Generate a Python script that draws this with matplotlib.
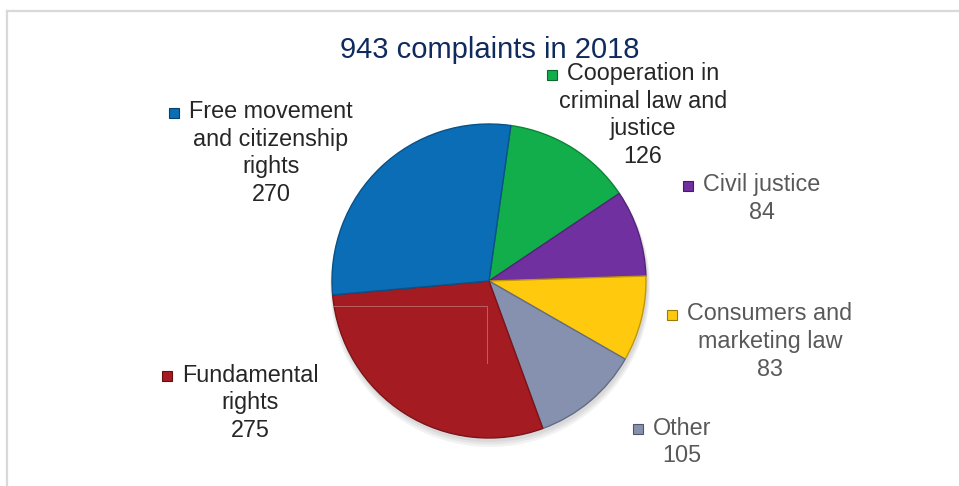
import matplotlib
matplotlib.use("Agg")
import matplotlib.pyplot as plt
from matplotlib.patches import Rectangle, Circle
from matplotlib.colors import to_rgb

# data, clockwise from the top
categories = ["Cooperation in\ncriminal law and\njustice", "Civil justice",
              "Consumers and\nmarketing law", "Other",
              "Fundamental\nrights", "Free movement\nand citizenship\nrights"]
counts = [126, 84, 83, 105, 275, 270]
colors = ["#12AE4B", "#7030A0", "#FFC90E", "#8591AE", "#A41B21", "#0A6DB5"]
label_colors = ["#262626", "#595959", "#595959", "#595959", "#262626", "#262626"]
title = "943 complaints in 2018"

W, H = 959, 486
# label anchor (centre x, first line y) in pixels from top-left
label_pos = [(643, 74), (762, 185), (770, 314), (682, 428), (250, 375), (271, 112)]
line_h = 27.5


def darker(c, f=0.7):
    r, g, b = to_rgb(c)
    return (r * f, g * f, b * f)


fig = plt.figure(figsize=(W / 100, H / 100), dpi=100)
ax = fig.add_axes([0, 0, 1, 1])
plt.rcParams["font.family"] = ["Liberation Sans", "DejaVu Sans"]

cx, cy, r = 489, H - 281, 157

# soft shadow
for i, a in enumerate([0.05, 0.05, 0.05]):
    ax.add_patch(Circle((cx + 1, cy - 3 - i * 1.5), r + 1 + i, color="black", alpha=a, lw=0, zorder=0))

wedges, _ = ax.pie(counts, colors=colors, startangle=82, counterclock=False,
                   radius=r, center=(cx, cy),
                   wedgeprops=dict(linewidth=1.0, zorder=2))
for w, c in zip(wedges, colors):
    w.set_edgecolor(darker(c, 0.75))

# faint artefact lines inside red slice
ax.plot([333, 487, 487], [H - 306, H - 306, H - 363], color="#C98F8F", lw=0.7, alpha=0.6, zorder=4)

ax.set_xlim(0, W)
ax.set_ylim(0, H)
ax.axis("off")

# chart border (top and left)
ax.plot([6.5, W], [H - 11, H - 11], color="#D9D9D9", lw=1.6, clip_on=False)
ax.plot([6.5, 6.5], [H - 11, 0], color="#D9D9D9", lw=1.6, clip_on=False)

ax.text(490, H - 50, title, ha="center", va="center", fontsize=21, color="#0F2A5C")

renderer = fig.canvas.get_renderer()
inv = ax.transData.inverted()
for cat, n, col, lc, (x, y) in zip(categories, counts, colors, label_colors, label_pos):
    lines = cat.split("\n") + [str(n)]
    first = None
    for k, ln in enumerate(lines):
        t = ax.text(x, H - (y + k * line_h), ln, ha="center", va="center",
                    fontsize=16.8, color=lc)
        if k == 0:
            first = t
    bb = first.get_window_extent(renderer)
    x0 = inv.transform((bb.x0, bb.y0))[0]
    s = 10
    ax.add_patch(Rectangle((x0 - 10 - s, H - y - s / 2 - 1), s, s, facecolor=col,
                           edgecolor=darker(col, 0.6), lw=0.8, zorder=5))

fig.savefig("out.png", dpi=100)
